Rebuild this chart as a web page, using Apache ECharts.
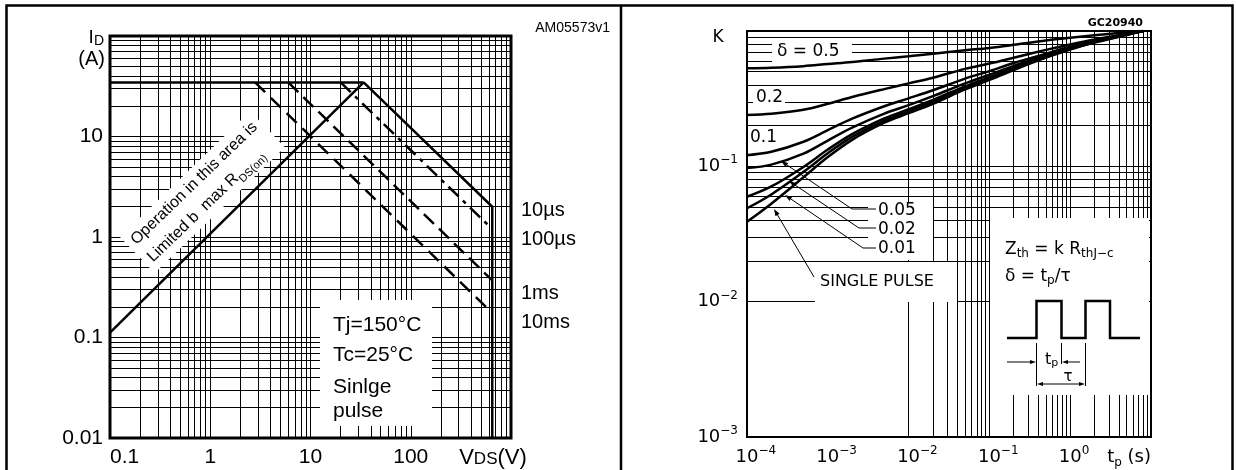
<!DOCTYPE html>
<html>
<head>
<meta charset="utf-8">
<script src="https://cdn.jsdelivr.net/npm/echarts@6.0.0/dist/echarts.min.js"></script>
<style>
html,body{margin:0;padding:0;background:#fff;}
#chart{width:1236px;height:470px;}
</style>
</head>
<body>
<div id="chart"></div>
<script>
// ===== Left: safe operating area (ID vs VDS) =====
const soaVoltageRange = [0.1, 1000];
const soaCurrentRange = [0.01, 100];
const soaXTickLabels = ['0.1', '1', '10', '100'];
const soaYTickLabels = ['0.01', '0.1', '1', '10'];
const currentLimit = [[0.1, 34.5], [33.9, 34.5]];
const rdsOnLimit = [[0.1, 0.112], [33.9, 34.5]];
const pulse10us = [[33.9, 34.5], [650, 2.0], [650, 0.01]];
const pulse100us = [[20, 34.5], [650, 1.2]];
const pulse1ms = [[6, 34.5], [650, 0.37]];
const pulse10ms = [[2.8, 34.5], [650, 0.175]];
const pulseNames = ['10µs', '100µs', '1ms', '10ms'];

// ===== Right: normalized transient thermal impedance K vs tp =====
const tpRange = [1e-4, 10];
const kRange = [1e-3, 1];
const tpValues = [1e-4, 2e-4, 5e-4, 1e-3, 2e-3, 5e-3, 1e-2, 2e-2, 5e-2, 0.1, 0.2, 0.5, 1, 2, 5, 8];
const kDelta05 = [0.53, 0.535, 0.55, 0.57, 0.59, 0.625, 0.65, 0.68, 0.72, 0.75, 0.79, 0.85, 0.89, 0.93, 0.98, 1];
const kDelta02 = [0.24, 0.245, 0.262, 0.29, 0.325, 0.372, 0.41, 0.452, 0.525, 0.575, 0.635, 0.725, 0.795, 0.865, 0.955, 1];
const kDelta01 = [0.121, 0.128, 0.152, 0.185, 0.225, 0.278, 0.318, 0.365, 0.445, 0.505, 0.58, 0.68, 0.765, 0.845, 0.95, 1];
const kDelta005 = [0.097, 0.103, 0.124, 0.155, 0.193, 0.245, 0.283, 0.33, 0.41, 0.475, 0.553, 0.662, 0.75, 0.835, 0.945, 1];
const kDelta002 = [0.0596, 0.071, 0.099, 0.133, 0.173, 0.226, 0.264, 0.31, 0.39, 0.455, 0.535, 0.648, 0.74, 0.83, 0.94, 1];
const kDelta001 = [0.049, 0.062, 0.091, 0.125, 0.165, 0.218, 0.255, 0.30, 0.38, 0.445, 0.525, 0.64, 0.735, 0.825, 0.94, 1];
const kSingle = [0.039, 0.053, 0.083, 0.117, 0.157, 0.21, 0.247, 0.29, 0.37, 0.435, 0.515, 0.635, 0.73, 0.82, 0.935, 1];
const deltaLabels = ['δ = 0.5', '0.2', '0.1', '0.05', '0.02', '0.01', 'SINGLE PULSE'];

// ---------------------------------------------------------------
const LF = 'Liberation Sans';
const RF = 'DejaVu Sans';
const chart = echarts.init(document.getElementById('chart'));

function logGrid(lo, hi) {
  const out = [];
  const e0 = Math.round(Math.log10(lo)), e1 = Math.round(Math.log10(hi));
  for (let e = e0; e < e1; e++) for (let m = 1; m < 10; m++) out.push(+(m * Math.pow(10, e)).toPrecision(4));
  out.push(hi);
  return out;
}
function pairs(xs, ys) { return xs.map((x, i) => [x, ys[i]]); }
function expOf(v) { return Math.round(Math.log10(v)); }
function supText(e) { return e < 0 ? '−' + (-e) : String(e); }

function gridLineSeries(xi, xr, yr) {
  return {
    type: 'line', xAxisIndex: xi, yAxisIndex: xi, data: [[xr[0], yr[0]]], showSymbol: false,
    lineStyle: { width: 0 }, silent: true, z: 1,
    markLine: {
      silent: true, z: 1, symbol: 'none', animation: false, label: { show: false },
      lineStyle: { color: '#000', width: 1, type: 'solid' }, emphasis: { disabled: true },
      data: logGrid(xr[0], xr[1]).map(v => ({ xAxis: v })).concat(logGrid(yr[0], yr[1]).map(v => ({ yAxis: v })))
    }
  };
}
function curve(xi, data, dash, width) {
  return {
    type: 'line', xAxisIndex: xi, yAxisIndex: xi, data: data, showSymbol: false, z: 5, silent: true,
    lineStyle: { color: '#000', width: width || 2.5, type: dash || 'solid' }
  };
}
function smoothCurve(ys) {
  const s = curve(1, pairs(tpValues, ys), 'solid', 2.5);
  s.smooth = 0.35;
  return s;
}

// ---- graphics ----
const g = [];
function box(x, y, w, h) { g.push({ type: 'rect', z: 3, silent: true, shape: { x, y, width: w, height: h }, style: { fill: '#fff' } }); }
function txt(x, y, s, o) {
  g.push({ type: 'text', z: 7, silent: true, x, y,
    style: Object.assign({ text: s, fill: '#000', align: 'left', verticalAlign: 'middle' }, o) });
}
function seg(x1, y1, x2, y2, w) { g.push({ type: 'line', z: 6, silent: true, shape: { x1, y1, x2, y2 }, style: { stroke: '#000', lineWidth: w || 1 } }); }
function arrow(x1, y1, x2, y2, len, hw) {
  len = len || 7; hw = hw || 2.4;
  const a = Math.atan2(y2 - y1, x2 - x1);
  const bx = x2 - len * Math.cos(a), by = y2 - len * Math.sin(a);
  const px = -Math.sin(a) * hw, py = Math.cos(a) * hw;
  seg(x1, y1, bx, by, 1);
  g.push({ type: 'polygon', z: 6, silent: true, shape: { points: [[x2, y2], [bx + px, by + py], [bx - px, by - py]] }, style: { fill: '#000' } });
}

// panel frame
g.push({ type: 'rect', z: 8, silent: true, shape: { x: 6.5, y: 5.5, width: 1226, height: 480 }, style: { fill: null, stroke: '#000', lineWidth: 2.5 } });
seg(621, 5, 621, 470, 2.5);

// left panel texts
txt(610, 28, 'AM05573v1', { fontFamily: LF, fontSize: 14, align: 'right' });
txt(104, 38, '{i|I}{d|D}', { align: 'right', rich: { i: { fontFamily: LF, fontSize: 19, lineHeight: 20 }, d: { fontFamily: LF, fontSize: 14, lineHeight: 14, verticalAlign: 'bottom' } } });
txt(105, 59, '(A)', { fontFamily: LF, fontSize: 20, align: 'right' });

// rotated RDS(on) annotation
g.push({ type: 'text', z: 4, silent: true, x: 120, y: 237, rotation: 44 * Math.PI / 180,
  style: { text: '{a|Operation in this area is}\n{a|Limited b  max R}{s|DS(on)}', fill: '#000', align: 'left', verticalAlign: 'top',
    backgroundColor: '#fff', padding: [1, 6, 1, 6],
    rich: { a: { fontFamily: LF, fontSize: 16, lineHeight: 24 }, s: { fontFamily: LF, fontSize: 11, lineHeight: 17, verticalAlign: 'bottom' } } } });

// Tj box
box(320, 300, 112, 126);
txt(333, 325, 'Tj=150°C', { fontFamily: LF, fontSize: 21 });
txt(333, 355, 'Tc=25°C', { fontFamily: LF, fontSize: 21 });
txt(333, 387, 'Sinlge', { fontFamily: LF, fontSize: 21 });
txt(333, 411, 'pulse', { fontFamily: LF, fontSize: 21 });

// pulse-width labels
[210, 239, 293, 322].forEach((y, i) => txt(521, y, pulseNames[i], { fontFamily: LF, fontSize: 20 }));

// right panel texts
txt(1143, 23, 'GC20940', { fontFamily: RF, fontSize: 11, fontWeight: 'bold', align: 'right' });
txt(718, 38, 'K', { fontFamily: RF, fontSize: 17, align: 'center' });
box(772, 38, 80, 27);
txt(777, 52, deltaLabels[0], { fontFamily: RF, fontSize: 17 });
box(753, 90, 32, 17);
txt(756, 98, deltaLabels[1], { fontFamily: RF, fontSize: 17 });
box(749, 130, 29, 17);
txt(750, 138, deltaLabels[2], { fontFamily: RF, fontSize: 17 });
box(868, 202, 65, 58);
txt(878, 211, deltaLabels[3], { fontFamily: RF, fontSize: 17 });
txt(878, 230, deltaLabels[4], { fontFamily: RF, fontSize: 17 });
txt(878, 249, deltaLabels[5], { fontFamily: RF, fontSize: 17 });
box(815, 262, 142, 40);
txt(820, 282, deltaLabels[6], { fontFamily: RF, fontSize: 16 });
// leaders
seg(876, 209, 852, 209); arrow(852, 209, 781, 161);
seg(876, 228, 859, 228); arrow(859, 228, 789, 181);
seg(876, 248, 863, 248); arrow(863, 248, 785, 195);
arrow(814, 277, 774, 209);

// Zth box with pulse sketch
box(990, 218, 159, 177);
txt(1005, 250, '{a|Z}{b|th}{a| = k R}{b|thJ−c}', { rich: { a: { fontFamily: RF, fontSize: 17, lineHeight: 20 }, b: { fontFamily: RF, fontSize: 12, lineHeight: 12, verticalAlign: 'bottom' } } });
txt(1005, 277, '{a|δ = t}{b|p}{a|/τ}', { rich: { a: { fontFamily: RF, fontSize: 17, lineHeight: 20 }, b: { fontFamily: RF, fontSize: 12, lineHeight: 12, verticalAlign: 'bottom' } } });
g.push({ type: 'polyline', z: 6, silent: true, shape: { points: [[1007, 338], [1036.5, 338], [1036.5, 301], [1061.5, 301], [1061.5, 338], [1085.5, 338], [1085.5, 301], [1110, 301], [1110, 338], [1140, 338]] }, style: { stroke: '#000', lineWidth: 2.5, fill: null } });
seg(1036.5, 343, 1036.5, 386); seg(1061.5, 343, 1061.5, 364); seg(1085.5, 343, 1085.5, 386);
arrow(1007, 362, 1036, 362, 6, 2); arrow(1080, 362, 1062, 362, 6, 2);
arrow(1061, 384, 1037, 384, 6, 2); arrow(1061, 384, 1085, 384, 6, 2);
txt(1045, 360, '{a|t}{b|p}', { rich: { a: { fontFamily: RF, fontSize: 16, lineHeight: 18 }, b: { fontFamily: RF, fontSize: 11, lineHeight: 11, verticalAlign: 'bottom' } } });
txt(1068, 377, 'τ', { fontFamily: RF, fontSize: 15, align: 'center' });

const option = {
  animation: false,
  backgroundColor: '#fff',
  grid: [
    { left: 110, top: 36, width: 401, height: 402, show: true, borderColor: '#000', borderWidth: 3, backgroundColor: '#fff' },
    { left: 747, top: 31, width: 404, height: 406, show: true, borderColor: '#000', borderWidth: 2, backgroundColor: '#fff' }
  ],
  xAxis: [
    { type: 'log', gridIndex: 0, logBase: 10, min: soaVoltageRange[0], max: soaVoltageRange[1],
      axisLine: { show: false }, axisTick: { show: false }, splitLine: { show: false },
      axisLabel: { color: '#000', fontFamily: LF, fontSize: 21, margin: 9, alignMinLabel: 'left',
        formatter: v => { const e = expOf(v); return e >= 3 ? '{v|V}{d|DS}{e|(V)}' : soaXTickLabels[e + 1]; },
        rich: { v: { fontFamily: LF, fontSize: 22, lineHeight: 22, verticalAlign: 'bottom' },
                d: { fontFamily: LF, fontSize: 17, lineHeight: 17, verticalAlign: 'bottom', padding: [0, 0, 1, 0] },
                e: { fontFamily: LF, fontSize: 22, lineHeight: 22, verticalAlign: 'bottom', padding: [0, 36, 0, 0] } } } },
    { type: 'log', gridIndex: 1, logBase: 10, min: tpRange[0], max: tpRange[1],
      axisLine: { show: false }, axisTick: { show: false }, splitLine: { show: false },
      axisLabel: { color: '#000', fontFamily: RF, fontSize: 18, margin: 8, alignMaxLabel: 'right',
        formatter: v => { const e = expOf(v); if (e >= 1) return '{t|t}{p|p}{t| (s)}'; return '{h|' + supText(e) + '}{b|10}{s|' + supText(e) + '}'; },
        rich: { b: { fontFamily: RF, fontSize: 18, lineHeight: 24 }, s: { fontFamily: RF, fontSize: 12, lineHeight: 14, verticalAlign: 'top' },
                h: { fontFamily: RF, fontSize: 12, lineHeight: 14, color: 'rgba(0,0,0,0)' },
                t: { fontFamily: RF, fontSize: 18, lineHeight: 24 }, p: { fontFamily: RF, fontSize: 12, lineHeight: 14, verticalAlign: 'bottom' } } } }
  ],
  yAxis: [
    { type: 'log', gridIndex: 0, logBase: 10, min: soaCurrentRange[0], max: soaCurrentRange[1],
      axisLine: { show: false }, axisTick: { show: false }, splitLine: { show: false },
      axisLabel: { color: '#000', fontFamily: LF, fontSize: 21, margin: 7,
        formatter: v => { const e = expOf(v); return e >= 2 ? '' : soaYTickLabels[e + 2]; } } },
    { type: 'log', gridIndex: 1, logBase: 10, min: kRange[0], max: kRange[1],
      axisLine: { show: false }, axisTick: { show: false }, splitLine: { show: false },
      axisLabel: { color: '#000', fontFamily: RF, fontSize: 18, margin: 9,
        formatter: v => { const e = expOf(v); return e >= 0 ? '' : '{b|10}{s|' + supText(e) + '}'; },
        rich: { b: { fontFamily: RF, fontSize: 18, lineHeight: 24 }, s: { fontFamily: RF, fontSize: 12, lineHeight: 14, verticalAlign: 'top' } } } }
  ],
  series: [
    gridLineSeries(0, soaVoltageRange, soaCurrentRange),
    gridLineSeries(1, tpRange, kRange),
    curve(0, currentLimit),
    curve(0, rdsOnLimit),
    curve(0, pulse10us),
    curve(0, pulse100us, [14, 6, 4, 6]),
    curve(0, pulse1ms, [14, 7]),
    curve(0, pulse10ms, [14, 8]),
    smoothCurve(kDelta05),
    smoothCurve(kDelta02),
    smoothCurve(kDelta01),
    smoothCurve(kDelta005),
    smoothCurve(kDelta002),
    smoothCurve(kDelta001),
    smoothCurve(kSingle)
  ],
  graphic: { elements: g }
};
chart.setOption(option);
</script>
</body>
</html>
